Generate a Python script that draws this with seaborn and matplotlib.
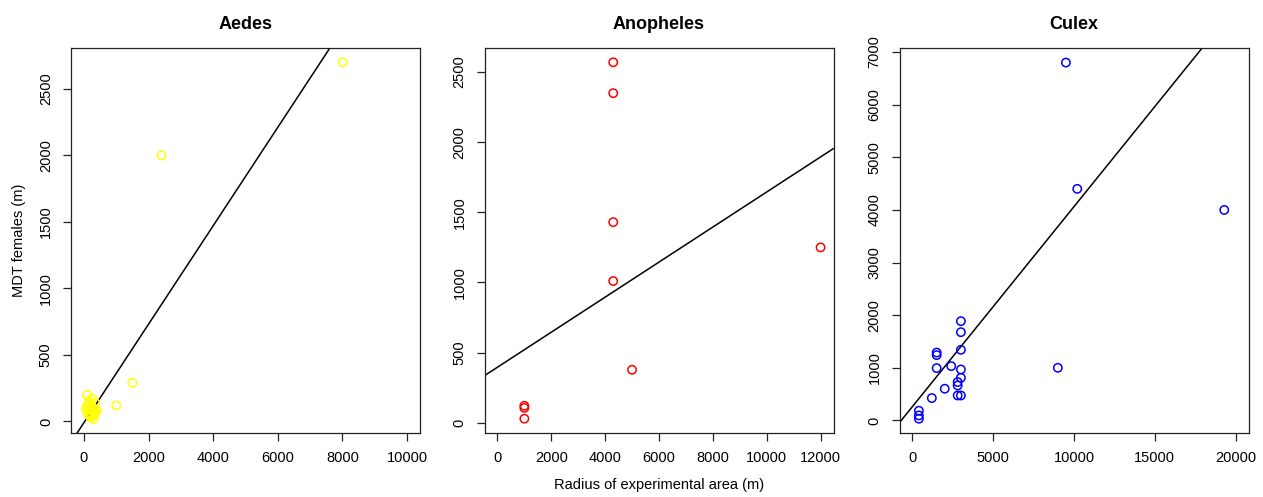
import matplotlib
matplotlib.use('Agg')
import matplotlib.pyplot as plt
import seaborn as sns
import pandas as pd

# Aedes (radius of experimental area vs MDT females)
aedes_x = [8000, 2400, 1500, 1000, 100, 150, 200, 250, 300, 350, 120, 180,
           220, 280, 320, 400, 150, 250, 300, 200, 60, 350, 250, 90]
aedes_y = [2700, 2000, 290, 120, 200, 150, 130, 110, 90, 70, 60, 40,
           30, 100, 50, 80, 120, 170, 20, 60, 90, 140, 50, 110]
aedes_fit = (-9.0, 0.37)  # intercept, slope

# Anopheles
anoph_x = [1000, 1000, 1000, 4300, 4300, 4300, 4300, 5000, 12000]
anoph_y = [120, 105, 28, 2570, 2350, 1430, 1010, 377, 1250]
anoph_fit = (395.0, 0.125)

# Culex
culex_x = [3000, 3000, 3000, 1500, 1500, 1500, 2400, 3000, 3000, 2800, 2800,
           2000, 1200, 2800, 3000, 400, 400, 400, 9000, 9500, 10200, 19300]
culex_y = [1886, 1677, 1342, 1290, 1241, 994, 1032, 968, 810, 729, 664,
           602, 425, 474, 474, 184, 95, 32, 1000, 6800, 4400, 4000]
culex_fit = (263.0, 0.38)

panels = [
    ('Aedes', aedes_x, aedes_y, aedes_fit, '#FFFF00',
     (-400, 10400), (-87, 2807), [0, 2000, 4000, 6000, 8000, 10000],
     [0, 500, 1000, 1500, 2000, 2500]),
    ('Anopheles', anoph_x, anoph_y, anoph_fit, '#FF0000',
     (-480, 12480), (-74, 2672), [0, 2000, 4000, 6000, 8000, 10000, 12000],
     [0, 500, 1000, 1500, 2000, 2500]),
    ('Culex', culex_x, culex_y, culex_fit, '#0000FF',
     (-800, 20800), (-239, 7077), [0, 5000, 10000, 15000, 20000],
     [0, 1000, 2000, 3000, 4000, 5000, 6000, 7000]),
]

sns.set_style('ticks')
plt.rcParams['font.family'] = ['Liberation Sans', 'DejaVu Sans']
plt.rcParams['text.color'] = 'black'
plt.rcParams['axes.labelcolor'] = 'black'
plt.rcParams['xtick.color'] = 'black'
plt.rcParams['ytick.color'] = 'black'

fig = plt.figure(figsize=(12.63, 4.97), dpi=100)
lefts = [71 / 1263, 484.5 / 1263, 899.5 / 1263]
w = 349 / 1263
bottom = 1 - 433 / 497
h = 385 / 497

for i, (name, xs, ys, fit, col, xl, yl, xt, yt) in enumerate(panels):
    ax = fig.add_axes([lefts[i], bottom, w, h])
    df = pd.DataFrame({'x': xs, 'y': ys})
    sns.scatterplot(data=df, x='x', y='y', ax=ax, s=36, linewidth=1.1,
                    edgecolor=col, zorder=3)
    ax.collections[-1].set_facecolor('none')
    ax.axline((0, fit[0]), slope=fit[1], color='black', lw=1.1)
    ax.set_xlim(*xl)
    ax.set_ylim(*yl)
    ax.set_xticks(xt)
    ax.set_yticks(yt)
    ax.set_yticklabels([str(v) for v in yt], rotation=90, va='center')
    ax.tick_params(axis='both', length=6, width=0.9, color='#222222',
                   labelsize=10.5, labelcolor='black', pad=7)
    for sp in ax.spines.values():
        sp.set_visible(True)
        sp.set_linewidth(0.9)
        sp.set_color('#222222')
    ax.set_title(name, fontsize=13, fontweight='bold', pad=14, color='black')
    ax.set_xlabel('')
    ax.set_ylabel('')

fig.axes[0].set_ylabel('MDT females (m)', fontsize=10.5, labelpad=9)
fig.axes[1].set_xlabel('Radius of experimental area (m)', fontsize=10.5,
                       labelpad=9)

fig.savefig('out.png', dpi=100)
